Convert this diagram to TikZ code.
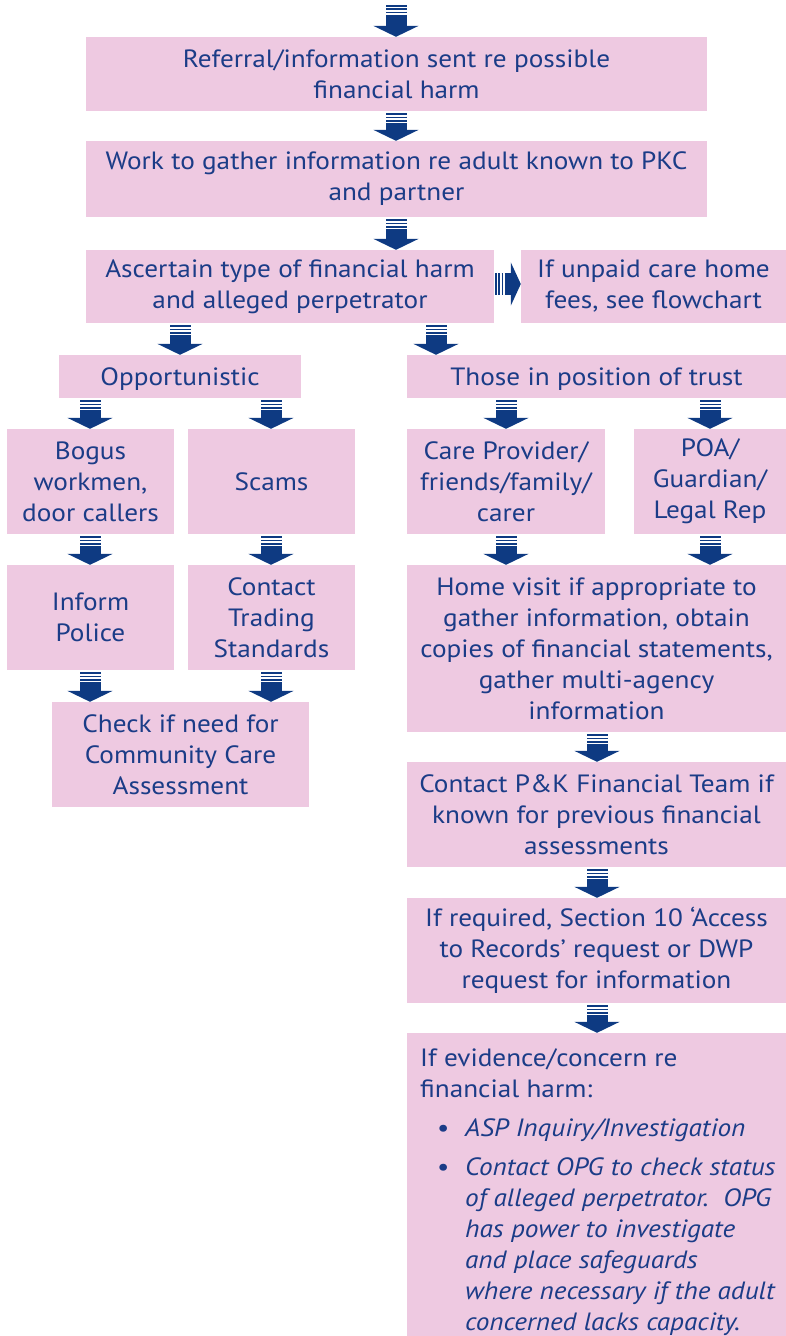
\documentclass[tikz,border=0pt]{standalone}
\usepackage{fontspec}
\setmainfont{PT Sans}[FakeStretch=1.09]
\usetikzlibrary{arrows.meta}
\definecolor{boxpink}{HTML}{EEC9E1}
\definecolor{navytext}{HTML}{1B3C87}
\definecolor{navyarrow}{HTML}{0E3A82}
\tikzset{
  box/.style={fill=boxpink, draw=none, text=navytext, align=center, inner sep=0pt,
    font=\fontsize{25}{31}\selectfont},
  oneline/.style={text height=21pt, text depth=3pt},
  barr/.style={draw=navyarrow, line width=21pt,
    dash pattern=on 1.7pt off 1.6pt on 1.8pt off 1.5pt on 1.8pt off 1.4pt on 300pt off 0pt,
    -{Triangle[width=45pt,length=11pt,fill=navyarrow]}, shorten <=2pt},
}
\newcommand\bx[7][]{\node[box, #1, minimum width={(#5-#3)*1pt}, minimum height={(#6-#4)*1pt}] (#2) at ({(#3+#5)/2},{(#4+#6)/2}) {#7};}
\begin{document}
\begin{tikzpicture}[x=1pt,y=-1pt]
\useasboundingbox (0,0) rectangle (786,1336);
\bx{n1}{86}{37}{707}{111}{Referral/information sent re possible\\financial harm}
\bx{n2}{86}{141}{707}{217}{Work to gather information re adult known to PKC\\and partner}
\bx{n3}{86}{250}{494}{323}{Ascertain type of financial harm\\and alleged perpetrator}
\bx{n4}{521}{250}{786}{323}{If unpaid care home\\fees, see flowchart}
\bx[oneline]{n5}{59}{355}{301}{398}{Opportunistic}
\bx[oneline]{n6}{407}{355}{786}{398}{Those in position of trust}
\bx{n7}{7}{429}{174}{534}{Bogus\\workmen,\\door callers}
\bx{n8}{188}{429}{355}{534}{Scams}
\bx{n9}{407}{429}{605}{534}{Care Provider/\\friends/family/\\carer}
\bx{n10}{634}{429}{786}{534}{POA/\\Guardian/\\Legal Rep}
\bx{n11}{7}{565}{174}{670}{Inform\\Police}
\bx{n12}{188}{565}{355}{670}{Contact\\Trading\\Standards}
\bx{n13}{52}{702}{309}{807}{Check if need for\\Community Care\\Assessment}
\bx{n14}{407}{565}{786}{732}{Home visit if appropriate to\\gather information, obtain\\copies of financial statements,\\gather multi-agency\\information}
\bx{n15}{407}{762}{786}{867}{Contact P\&K Financial Team if\\known for previous financial\\assessments}
\bx{n16}{407}{898}{786}{1003}{If required, Section 10 `Access\\to Records' request or DWP\\request for information}
\bx{n17}{407}{1033}{786}{1336}{}
\node[box, fill=none, anchor=north west, align=left] (t17) at (420,1048) {If evidence/concern re\\financial harm:\\[8pt]
\hspace*{17pt}\makebox[28pt][l]{\textbullet}\textit{ASP Inquiry/Investigation}\\[8pt]
\hspace*{17pt}\makebox[28pt][l]{\textbullet}\textit{Contact OPG to check status}\\
\hspace*{45pt}\textit{of alleged perpetrator.\ \ OPG}\\
\hspace*{45pt}\textit{has power to investigate}\\
\hspace*{45pt}\textit{and place safeguards}\\
\hspace*{45pt}\textit{where necessary if the adult}\\
\hspace*{45pt}\textit{concerned lacks capacity.}};
\coordinate (top) at (396,3);
\coordinate (xa) at (396,0);
\coordinate (xb) at (180,0);
\coordinate (xc) at (436,0);
\coordinate (xd) at (90,0);
\coordinate (xe) at (271,0);
\coordinate (xf) at (506,0);
\coordinate (xg) at (710,0);
\coordinate (xh) at (597,0);
\coordinate (ya) at (0,284);
\draw[barr] (top) -- (n1.north -| xa);
\draw[barr] (n1.south -| xa) -- (n2.north -| xa);
\draw[barr] (n2.south -| xa) -- (n3.north -| xa);
\draw[barr, line width=22pt, -{Triangle[width=43pt,length=10pt,fill=navyarrow]},
  dash pattern=on 1.7pt off 1.4pt on 1.8pt off 1.4pt on 1.8pt off 1.2pt on 300pt off 0pt, shorten <=1pt]
  (n3.east |- ya) -- (n4.west |- ya);
\draw[barr] (n3.south -| xb) -- (n5.north -| xb);
\draw[barr] (n3.south -| xc) -- (n6.north -| xc);
\draw[barr] (n5.south -| xd) -- (n7.north -| xd);
\draw[barr] (n5.south -| xe) -- (n8.north -| xe);
\draw[barr] (n6.south -| xf) -- (n9.north -| xf);
\draw[barr] (n6.south -| xg) -- (n10.north -| xg);
\draw[barr] (n7.south -| xd) -- (n11.north -| xd);
\draw[barr] (n8.south -| xe) -- (n12.north -| xe);
\draw[barr] (n9.south -| xf) -- (n14.north -| xf);
\draw[barr] (n10.south -| xg) -- (n14.north -| xg);
\draw[barr] (n11.south -| xd) -- (n13.north -| xd);
\draw[barr] (n12.south -| xe) -- (n13.north -| xe);
\draw[barr] (n14.south -| xh) -- (n15.north -| xh);
\draw[barr] (n15.south -| xh) -- (n16.north -| xh);
\draw[barr] (n16.south -| xh) -- (n17.north -| xh);
\end{tikzpicture}
\end{document}
